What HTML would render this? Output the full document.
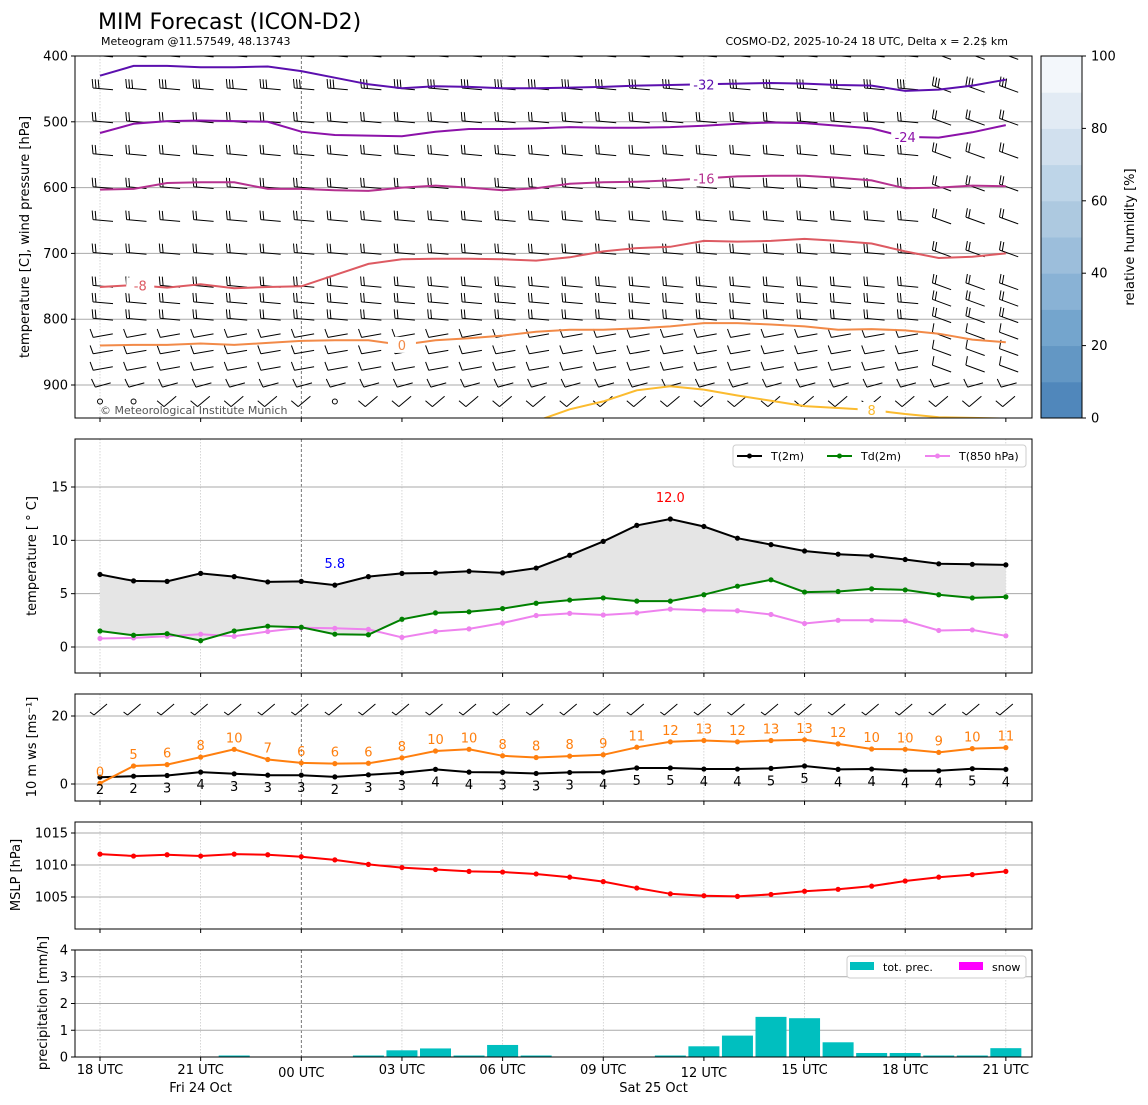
<!DOCTYPE html>
<html><head><meta charset="utf-8">
<style>
html,body{margin:0;padding:0;background:#fff;}
svg{display:block;font-family:"DejaVu Sans","Liberation Sans",sans-serif;}
</style></head>
<body>
<svg id="chart" width="1148" height="1105" viewBox="0 0 1148 1105" xmlns="http://www.w3.org/2000/svg">
<rect width="1148" height="1105" fill="#fff"/>
<text x="98" y="29" font-size="22">MIM Forecast (ICON-D2)</text>
<text x="101" y="45" font-size="11">Meteogram @11.57549, 48.13743</text>
<text x="1008" y="45" font-size="11" text-anchor="end">COSMO-D2, 2025-10-24 18 UTC, Delta x = 2.2$ km</text>
<g id="root"></g>
</svg>
<script>
// ---------- data ----------
const hours = [0,1,2,3,4,5,6,7,8,9,10,11,12,13,14,15,16,17,18,19,20,21,22,23,24,25,26,27];
const xTickHours = [0,3,6,9,12,15,18,21,24,27];
const xTickLabels = ["18 UTC","21 UTC","00 UTC","03 UTC","06 UTC","09 UTC","12 UTC","15 UTC","18 UTC","21 UTC"];
const t2m = [6.8,6.2,6.15,6.9,6.6,6.1,6.15,5.8,6.6,6.9,6.95,7.1,6.95,7.4,8.6,9.9,11.4,12.0,11.3,10.2,9.6,9.0,8.7,8.55,8.2,7.8,7.75,7.7];
const td2m = [1.5,1.1,1.25,0.6,1.5,1.95,1.85,1.2,1.15,2.6,3.2,3.3,3.6,4.1,4.4,4.6,4.3,4.3,4.9,5.7,6.3,5.15,5.2,5.45,5.35,4.9,4.6,4.7];
const t850 = [0.8,0.85,1.0,1.2,1.0,1.45,1.8,1.75,1.65,0.9,1.45,1.7,2.25,2.95,3.15,3.0,3.2,3.55,3.45,3.4,3.05,2.2,2.5,2.5,2.45,1.55,1.6,1.05];
const gust = [0.2,5.3,5.7,7.9,10.2,7.2,6.2,6.0,6.1,7.7,9.7,10.2,8.3,7.8,8.2,8.6,10.8,12.4,12.8,12.4,12.8,13.0,11.8,10.3,10.2,9.3,10.4,10.7];
const ws10 = [2.0,2.3,2.5,3.5,3.0,2.6,2.6,2.1,2.7,3.3,4.3,3.5,3.4,3.1,3.4,3.5,4.7,4.7,4.4,4.4,4.6,5.3,4.3,4.4,3.9,3.9,4.5,4.3];
const gustLabels = [0,5,6,8,10,7,6,6,6,8,10,10,8,8,8,9,11,12,13,12,13,13,12,10,10,9,10,11];
const wsLabels = [2,2,3,4,3,3,3,2,3,3,4,4,3,3,3,4,5,5,4,4,5,5,4,4,4,4,5,4];
const mslp = [1011.7,1011.4,1011.6,1011.4,1011.7,1011.6,1011.3,1010.8,1010.1,1009.6,1009.3,1009.0,1008.9,1008.6,1008.1,1007.4,1006.4,1005.5,1005.2,1005.1,1005.4,1005.9,1006.2,1006.7,1007.5,1008.1,1008.5,1009.0];
const precip = [0,0,0,0,0.02,0,0,0,0.02,0.25,0.32,0.03,0.45,0.03,0,0,0,0.02,0.4,0.8,1.5,1.45,0.55,0.15,0.15,0.03,0.03,0.33];
const isoM32 = [430,415,415,417,417,416,423,433,443,449,446,447,449,449,448,447,445,444,443,442,441,442,444,445,453,451,445,436];
const isoM24 = [517,503,499,498,499,500,515,520,521,522,515,511,511,510,508,509,509,508,506,503,501,502,506,510,523,524,516,505];
const isoM16 = [603,602,593,592,592,602,602,604,605,600,597,600,604,601,594,592,591,589,586,583,582,582,585,589,601,600,597,598];
const isoM8 = [751,748,752,747,753,751,750,733,716,709,708,708,709,711,706,697,692,690,681,682,681,678,681,685,697,707,705,700];
const iso0 = [840,839,839,837,839,836,833,832,832,839,832,829,825,819,816,816,814,811,806,806,808,811,816,815,817,822,831,835];
const iso8 = [null,null,null,null,null,null,null,null,null,null,null,null,null,955,937,925,908,902,907,916,924,932,935,938,944,949,950,951];
const barbLevels = [400,450,500,550,600,650,700,750,775,800,825,850,875,900,925];
const rhTicks = [0,20,40,60,80,100];

// ---------- helpers ----------
const NS = "http://www.w3.org/2000/svg";
const root = document.getElementById('root');
function el(tag, attrs, parent, text){
  const e = document.createElementNS(NS, tag);
  for (const k in attrs) e.setAttribute(k, attrs[k]);
  if (text !== undefined) e.textContent = text;
  (parent || root).appendChild(e);
  return e;
}
const X0 = 100, DX = 33.55, LEFT = 75, RIGHT = 1032;
function xs(h){ return X0 + h*DX; }
function lin(d0,d1,r0,r1){ return v => r0 + (v-d0)*(r1-r0)/(d1-d0); }
const yP = lin(400,900,56,385);
const yT = lin(0,15,647,487);
const yW = lin(0,20,784,716);
const yM = lin(1005,1015,897,833);
const yR = lin(0,4,1057,950);

const panels = [
  {name:'upper-air-panel', top:56, bottom:418},
  {name:'temperature-panel', top:439, bottom:673},
  {name:'wind-panel', top:694, bottom:801},
  {name:'mslp-panel', top:822, bottom:929},
  {name:'precip-panel', top:950, bottom:1057}
];

function pathFrom(vals, yf){
  let d = '', pen = false;
  vals.forEach((v,i) => {
    if (v === null) { pen = false; return; }
    d += (pen ? 'L' : 'M') + xs(hours[i]).toFixed(1) + ',' + yf(v).toFixed(1);
    pen = true;
  });
  return d;
}

const defs = el('defs', {});
panels.forEach((p,i) => {
  const c = el('clipPath', {id:'clip'+i}, defs);
  el('rect', {x:LEFT, y:p.top, width:RIGHT-LEFT, height:p.bottom-p.top}, c);
});

panels.forEach((p,i) => {
  const g = el('g', {'clip-path':'url(#clip'+i+')'});
  
  
  xTickHours.forEach(h => {
    if (i === 0 && h % 6 !== 0) return;
    const dark = (h === 6);
    el('line', {x1:xs(h), x2:xs(h), y1:p.top, y2:p.bottom, stroke: dark ? '#555' : '#bbb', 'stroke-width': dark ? 0.8 : 0.6, 'stroke-dasharray': dark ? '3,2' : '1.5,1.5'}, g);
  });
});

function hgrid(vals, yf, pIdx){
  const p = panels[pIdx];
  const g = el('g', {});
  
  
  vals.forEach(v => el('line', {x1:LEFT, x2:RIGHT, y1:yf(v), y2:yf(v), stroke:'#aaa', 'stroke-width':1}, g));
}
hgrid([500,600,700,800,900], yP, 0);
hgrid([0,5,10,15], yT, 1);
hgrid([0,20], yW, 2);
hgrid([1005,1010,1015], yM, 3);
hgrid([0,1,2,3,4], yR, 4);

function yticks(vals, yf, labels, name){
  const g = el('g', {});
  
  
  vals.forEach((v,i) => {
    el('line', {x1:LEFT-4, x2:LEFT, y1:yf(v), y2:yf(v), stroke:'#000'}, g);
    el('text', {x:LEFT-7, y:yf(v)+4.5, 'font-size':13, 'text-anchor':'end'}, g, labels[i]);
  });
}
yticks([400,500,600,700,800,900], yP, ['400','500','600','700','800','900'], 'pressure-ticks');
yticks([0,5,10,15], yT, ['0','5','10','15'], 'temperature-ticks');
yticks([0,20], yW, ['0','20'], 'wind-ticks');
yticks([1005,1010,1015], yM, ['1005','1010','1015'], 'mslp-ticks');
yticks([0,1,2,3,4], yR, ['0','1','2','3','4'], 'precip-ticks');

panels.forEach(p => {
  xTickHours.forEach(h => el('line', {x1:xs(h), x2:xs(h), y1:p.bottom, y2:p.bottom+4, stroke:'#000'}));
});
const xl = el('g', {});


xTickHours.forEach((h,i) => {
  const low = (h === 6 || h === 18);
  el('text', {x:xs(h), y: low ? 1077 : 1074, 'font-size':13, 'text-anchor':'middle'}, xl, xTickLabels[i]);
});
el('text', {x:xs(3), y:1092, 'font-size':13, 'text-anchor':'middle',  }, root, 'Fri 24 Oct');
el('text', {x:xs(16.5), y:1092, 'font-size':13, 'text-anchor':'middle',  }, root, 'Sat 25 Oct');

function ytitle(txt, x, y, name){
  const t = el('text', {x:x, y:y, 'font-size':13, 'text-anchor':'middle', transform:'rotate(-90 '+x+' '+y+')'}, root, txt);
  
  
}
ytitle('temperature [C], wind pressure [hPa]', 29, 237, 'upper-air-y-title');
ytitle('temperature [ ° C]', 36, 556, 'temperature-y-title');
ytitle('10 m ws [ms⁻¹]', 36, 747, 'wind-y-title');
ytitle('MSLP [hPa]', 20, 875, 'mslp-y-title');
ytitle('precipitation [mm/h]', 47, 1003, 'precip-y-title');

// ---------- panel 1: barbs ----------
const bg = el('g', {'clip-path':'url(#clip0)'});


function barb(g, x, y, ang, nf, len){
  const a = ang*Math.PI/180;
  const dx = Math.cos(a), dy = Math.sin(a);
  const x1 = x - dx*len/2, y1 = y - dy*len/2, x2 = x + dx*len/2, y2 = y + dy*len/2;
  let d = 'M'+x1.toFixed(1)+','+y1.toFixed(1)+'L'+x2.toFixed(1)+','+y2.toFixed(1);
  for (let k=0;k<nf;k++){
    const bx = x1 + dx*k*3, by = y1 + dy*k*3;
    const fa = a - 1.75;
    d += 'M'+bx.toFixed(1)+','+by.toFixed(1)+'l'+(Math.cos(fa)*9).toFixed(1)+','+(Math.sin(fa)*9).toFixed(1);
  }
  el('path', {d:d, stroke:'#000', 'stroke-width':1, fill:'none'}, g);
}
barbLevels.forEach((p,ri) => {
  hours.forEach((h,i) => {
    const x = xs(h) + 3, y = yP(p);
    let ang = 5, nf = 2;
    if (p <= 450) nf = 3;
    if (p >= 825) { ang = -10; nf = 1; }
    if (p === 900) { ang = -15; nf = 1; }
    if (p === 925) { ang = -40; nf = 1; }
    if (h >= 25 && p < 900) ang = 20;
    if (p === 925 && (h === 0 || h === 1 || h === 7)) {
      el('circle', {cx:xs(h), cy:y, r:2.5, fill:'none', stroke:'#000'}, bg);
      return;
    }
    barb(bg, x, y, ang, nf, p >= 900 ? 16 : 20);
  });
});

const isos = [
  {vals:isoM32, color:'#5b0fae', label:'-32', li:18},
  {vals:isoM24, color:'#8c12a9', label:'-24', li:24},
  {vals:isoM16, color:'#b5318f', label:'-16', li:18},
  {vals:isoM8, color:'#dd5a62', label:'-8', li:1.2},
  {vals:iso0, color:'#f28a48', label:'0', li:9},
  {vals:iso8, color:'#fbbb2f', label:'8', li:23}
];
const ig = el('g', {'clip-path':'url(#clip0)'});


isos.forEach(o => {
  const pth = el('path', {d:pathFrom(o.vals, yP), stroke:o.color, 'stroke-width':2, fill:'none'}, ig);
  
  
  const i0 = Math.floor(o.li), fr = o.li - i0;
  const v = o.vals[i0] + ((o.vals[i0+1] !== undefined ? o.vals[i0+1] : o.vals[i0]) - o.vals[i0])*fr;
  const lx = xs(o.li), ly = yP(v);
  el('rect', {x:lx-14, y:ly-8, width:28, height:16, fill:'#fff'}, ig);
  el('text', {x:lx, y:ly+5, 'font-size':13, fill:o.color, 'text-anchor':'middle'}, ig, o.label);
});
el('text', {x:100, y:414, 'font-size':11, fill:'#555',  }, root, '© Meteorological Institute Munich');

const cb = el('g', {});


const cbCols = ['#5087bb','#6397c4','#74a5cd','#89b2d5','#9cbedb','#adc9e0','#bed5e8','#d1e0ee','#e2ebf4','#f3f7fb'];
const yC = lin(0,100,418,56);
cbCols.forEach((c,i) => el('rect', {x:1041, y:yC((i+1)*10), width:41, height:yC(i*10)-yC((i+1)*10)+0.5, fill:c}, cb));
el('rect', {x:1041, y:56, width:41, height:362, fill:'none', stroke:'#000'}, cb);
rhTicks.forEach(v => {
  el('line', {x1:1082, x2:1086, y1:yC(v), y2:yC(v), stroke:'#000'}, cb);
  el('text', {x:1091, y:yC(v)+4.5, 'font-size':13}, cb, String(v));
});
ytitle('relative humidity [%]', 1134, 237, 'colorbar-title');

// ---------- panel 2 ----------
const p2 = el('g', {'clip-path':'url(#clip1)'});


let fd = pathFrom(t2m, yT);
for (let i = hours.length-1; i >= 0; i--) fd += 'L' + xs(hours[i]).toFixed(1) + ',' + yT(td2m[i]).toFixed(1);
const fill = el('path', {d:fd+'Z', fill:'#e5e5e5', stroke:'none'}, p2);


function series(g, vals, yf, color, name){
  const s = el('path', {d:pathFrom(vals, yf), stroke:color, 'stroke-width':2, fill:'none'}, g);
  
  
  vals.forEach((v,i) => {
    const c = el('circle', {cx:xs(hours[i]), cy:yf(v), r:2.6, fill:color}, g);
    
    
  });
}
series(p2, t850, yT, '#ee82ee', 't850-line');
series(p2, td2m, yT, '#008000', 'td2m-line');
series(p2, t2m, yT, '#000', 't2m-line');
let imax = 0, imin = 0;
t2m.forEach((v,i) => { if (v > t2m[imax]) imax = i; if (v < t2m[imin]) imin = i; });
el('text', {x:xs(hours[imax]), y:yT(t2m[imax])-17, 'font-size':13, fill:'#f00', 'text-anchor':'middle',  }, root, t2m[imax].toFixed(1));
el('text', {x:xs(hours[imin]), y:yT(t2m[imin])-17, 'font-size':13, fill:'#00f', 'text-anchor':'middle',  }, root, t2m[imin].toFixed(1));
const lg = el('g', {});


el('rect', {x:733, y:445, width:293, height:22, rx:3, fill:'#fff', stroke:'#ccc'}, lg);
[['T(2m)','#000',737],['Td(2m)','#008000',827],['T(850 hPa)','#ee82ee',925]].forEach(e => {
  el('line', {x1:e[2], x2:e[2]+25, y1:456, y2:456, stroke:e[1], 'stroke-width':2}, lg);
  el('circle', {cx:e[2]+12.5, cy:456, r:2.5, fill:e[1]}, lg);
  el('text', {x:e[2]+34, y:460, 'font-size':11}, lg, e[0]);
});

// ---------- panel 3 ----------
const p3 = el('g', {'clip-path':'url(#clip2)'});


hours.forEach(h => {
  const x = xs(h), y = 710;
  el('path', {d:'M'+(x-6)+','+(y+5)+'L'+(x+7)+','+(y-6)+'M'+(x-6)+','+(y+5)+'l-4,-3', stroke:'#000', 'stroke-width':1, fill:'none'}, p3);
});
series(p3, ws10, yW, '#000', 'ws10-line');
series(p3, gust, yW, '#ff7f0e', 'gust-line');
gust.forEach((v,i) => el('text', {x:xs(hours[i]), y:yW(v)-7, 'font-size':13, fill:'#ff7f0e', 'text-anchor':'middle'}, root, String(gustLabels[i])));
ws10.forEach((v,i) => el('text', {x:xs(hours[i]), y:yW(v)+17, 'font-size':13, fill:'#000', 'text-anchor':'middle'}, root, String(wsLabels[i])));

// ---------- panel 4 ----------
const p4 = el('g', {'clip-path':'url(#clip3)'});


series(p4, mslp, yM, '#f00', 'mslp-line');

// ---------- panel 5 ----------
const p5 = el('g', {'clip-path':'url(#clip4)'});


precip.forEach((v,i) => {
  if (v <= 0) return;
  const h = Math.max(1.5, yR(0)-yR(v));
  const b = el('rect', {x:xs(hours[i])-15.5, y:yR(0)-h, width:31, height:h, fill:'#00bfbf'}, p5);
  
  
});
const lg5 = el('g', {});


el('rect', {x:847, y:956, width:179, height:22, rx:3, fill:'#fff', stroke:'#ccc'}, lg5);
el('rect', {x:850, y:962, width:24, height:8, fill:'#00bfbf'}, lg5);
el('text', {x:883, y:971, 'font-size':11}, lg5, 'tot. prec.');
el('rect', {x:959, y:962, width:24, height:8, fill:'#ff00ff'}, lg5);
el('text', {x:992, y:971, 'font-size':11}, lg5, 'snow');

panels.forEach(p => {
  const f = el('rect', {x:LEFT, y:p.top, width:RIGHT-LEFT, height:p.bottom-p.top, fill:'none', stroke:'#000', 'stroke-width':1});
  
  
});
</script>
</body></html>
